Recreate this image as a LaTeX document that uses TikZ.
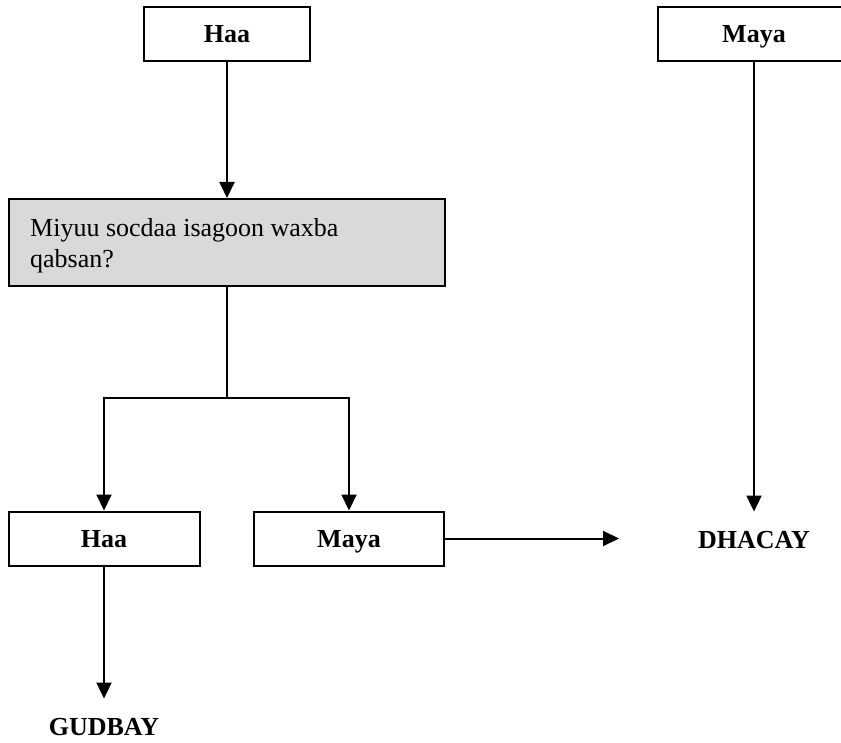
\documentclass[tikz,border=0pt]{standalone}
\usepackage{fontspec}
\setmainfont{Liberation Serif}
\usetikzlibrary{arrows.meta}
\begin{document}
\begin{tikzpicture}[x=1pt,y=-1pt,
  every node/.style={font=\fontsize{26}{31}\selectfont},
  box/.style={draw=black, line width=2pt, fill=white, inner sep=0pt,
    minimum height=54pt, text height=18pt, text depth=0pt, font=\fontsize{26}{31}\selectfont\bfseries},
  qbox/.style={draw=black, line width=2pt, fill=black!15, inner sep=0pt,
    minimum width=436pt, minimum height=87pt},
  endlabel/.style={inner xsep=2pt, inner ysep=19pt, font=\fontsize{26}{31}\selectfont\bfseries},
  conn/.style={line width=2pt},
  arr/.style={conn, -{Triangle[length=16pt,width=15pt]}}
]
\useasboundingbox (0,0) rectangle (841,743);

% top row
\node[box, minimum width=166pt] (tHaa) at (227,34) {Haa};
\node[box, minimum width=192pt] (tMaya) at (754,34) {Maya};

% question box
\node[qbox] (q) at (227,242.5) {};
\node[anchor=west, align=left, inner sep=0pt] (qtext) at (30,246.1)
  {Miyuu socdaa isagoon waxba\\qabsan?};

% answer boxes
\node[box, minimum width=191pt] (bHaa) at (104,538.5) {Haa};
\node[box, minimum width=190pt] (bMaya) at (349,538.5) {Maya};

% outcomes
\node[endlabel, anchor=base] (dhacay) at (754,548) {DHACAY};
\node[endlabel, anchor=base] (gudbay) at (104,735) {GUDBAY};

\coordinate (split) at (227,398);
\coordinate (mayaEnd) at (619,538.5);

% connectors
\draw[arr] (tHaa.south) -- (q.north);
\draw[conn] (q.south) -- (split);
\draw[arr] (split) -| (bHaa.north);
\draw[arr] (split) -| (bMaya.north);
\draw[arr] (bMaya.east) -- (mayaEnd);
\draw[arr] (tMaya.south) -- (dhacay.north);
\draw[arr] (bHaa.south) -- (gudbay.north);
\end{tikzpicture}
\end{document}
